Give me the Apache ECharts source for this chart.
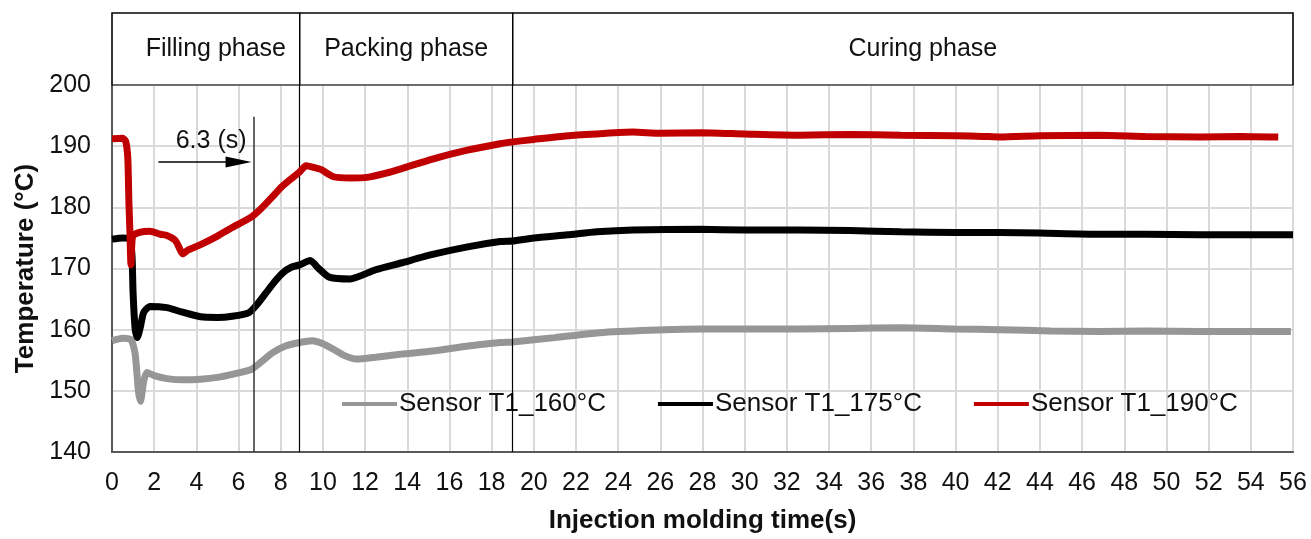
<!DOCTYPE html>
<html>
<head>
<meta charset="utf-8">
<script src="https://cdn.jsdelivr.net/npm/echarts@6/dist/echarts.min.js"></script>
<style>
html,body{margin:0;padding:0;background:#fff;}
#c{width:1311px;height:539px;}
</style>
</head>
<body>
<div id="c"></div>
<script>
// ---- data ----
const seriesNames = ['Sensor T1_160°C', 'Sensor T1_175°C', 'Sensor T1_190°C'];

const t160 = [0, 0.5, 0.9, 1.1, 1.25, 1.35, 1.5, 1.65, 2.0, 2.6, 3.4, 4.2, 5.0, 5.7, 6.6, 7.1, 7.6, 8.2, 8.9, 9.5, 10.0, 10.5, 11.0, 11.6, 12.5, 13.7, 15.2, 16.8, 18.4, 19.0, 21.0, 23.1, 25.5, 27.9, 30.0, 32.6, 35.0, 37.4, 40.0, 42.1, 44.5, 46.8, 49.0, 51.6, 54.0, 55.9];
const v160 = [158.2, 158.6, 158.4, 156.0, 150.0, 148.3, 151.5, 153.0, 152.5, 152.0, 151.8, 151.9, 152.2, 152.7, 153.5, 154.8, 156.2, 157.3, 157.9, 158.2, 157.7, 156.8, 155.8, 155.2, 155.5, 156.0, 156.5, 157.3, 157.9, 158.0, 158.7, 159.5, 159.9, 160.1, 160.1, 160.1, 160.2, 160.3, 160.1, 160.0, 159.8, 159.7, 159.8, 159.7, 159.7, 159.7];

const t175 = [0, 0.5, 0.85, 0.95, 1.0, 1.1, 1.2, 1.35, 1.5, 1.8, 2.6, 3.3, 4.2, 5.0, 5.7, 6.5, 6.9, 7.3, 7.7, 8.1, 8.5, 8.9, 9.4, 9.8, 10.3, 11.3, 12.5, 13.7, 15.2, 16.8, 18.4, 19.0, 20.0, 21.6, 23.0, 24.7, 27.9, 30.0, 32.6, 35.0, 37.4, 40.0, 42.1, 44.0, 46.8, 49.0, 51.6, 54.0, 56.0];
const v175 = [174.8, 175.0, 174.8, 172.0, 166.0, 160.0, 158.7, 160.5, 162.8, 163.8, 163.6, 162.9, 162.1, 162.0, 162.2, 162.8, 164.2, 166.0, 167.8, 169.3, 170.2, 170.6, 171.3, 170.0, 168.6, 168.3, 169.8, 170.9, 172.3, 173.5, 174.4, 174.5, 175.0, 175.5, 176.0, 176.3, 176.4, 176.3, 176.3, 176.2, 176.0, 175.9, 175.9, 175.8, 175.6, 175.6, 175.5, 175.5, 175.5];

const t190 = [0, 0.5, 0.65, 0.75, 0.8, 0.85, 0.9, 0.98, 1.3, 1.8, 2.3, 2.6, 3.0, 3.2, 3.35, 3.6, 4.2, 5.0, 5.7, 6.6, 7.1, 7.6, 8.0, 8.4, 8.9, 9.2, 9.6, 9.9, 10.5, 11.3, 12.1, 13.0, 13.7, 15.2, 16.8, 18.4, 19.0, 20.0, 21.6, 23.0, 24.7, 26.0, 27.9, 30.0, 32.6, 35.0, 37.4, 40.0, 41.3, 42.1, 44.0, 46.8, 49.0, 51.6, 53.5, 55.3];
const v190 = [191.2, 191.3, 190.8, 188.0, 181.0, 176.0, 170.6, 175.3, 175.9, 176.1, 175.6, 175.4, 174.6, 173.3, 172.4, 173.0, 173.9, 175.3, 176.7, 178.4, 179.9, 181.7, 183.2, 184.4, 185.8, 186.8, 186.5, 186.2, 185.0, 184.8, 184.9, 185.6, 186.3, 187.9, 189.3, 190.4, 190.7, 191.1, 191.7, 192.0, 192.3, 192.1, 192.2, 192.0, 191.8, 191.9, 191.8, 191.7, 191.6, 191.5, 191.7, 191.8, 191.6, 191.5, 191.6, 191.5];

const phaseNames = ['Filling phase', 'Packing phase', 'Curing phase'];
const phaseBounds = [0, 8.9, 19.0, 56];
const fillingMark = 6.7;          // end of the 6.3 s filling interval
const arrowFrom = 2.2, arrowTo = 6.0, arrowLevel = 187.4;
const annotationText = '6.3 (s)';

const xTicks = {min: 0, max: 56, interval: 2};
const yTicks = {min: 140, max: 200, interval: 10};

// ---- build ----
const zip = (ts, vs) => ts.map((t, i) => [t, vs[i]]);
const FONT = '"Liberation Sans", Arial, sans-serif';
const colors = ['#969696', '#000000', '#C00000'];

const chart = echarts.init(document.getElementById('c'), null, {renderer: 'canvas'});

const phaseAreas = phaseNames.map((n, i) => [
  {xAxis: phaseBounds[i], yAxis: 0, name: n,
   label: {offset: [i === 0 ? 10 : (i === 2 ? 20 : 0), 0]}},
  {xAxis: phaseBounds[i + 1], yAxis: 1}
]);

const option = {
  animation: false,
  backgroundColor: '#fff',
  textStyle: {fontFamily: FONT},
  grid: [
    {left: 112, right: 18, top: 85, bottom: 87, show: true, borderColor: '#595959', borderWidth: 1.5},
    {left: 112, right: 18, top: 13, height: 72, show: true, borderColor: '#595959', borderWidth: 1.5}
  ],
  xAxis: [
    {type: 'value', gridIndex: 0, min: xTicks.min, max: xTicks.max, interval: xTicks.interval,
     axisLine: {show: true, onZero: false, lineStyle: {color: '#595959', width: 2}},
     axisTick: {show: false},
     axisLabel: {fontSize: 25, color: '#111', margin: 19, fontFamily: FONT},
     splitLine: {show: true, lineStyle: {color: '#d9d9d9', width: 2}},
     name: 'Injection molding time(s)', nameLocation: 'middle', nameGap: 56,
     nameTextStyle: {fontSize: 26, fontWeight: 'bold', color: '#111', fontFamily: FONT}},
    {type: 'value', gridIndex: 1, min: 0, max: 56, show: false}
  ],
  yAxis: [
    {type: 'value', gridIndex: 0, min: yTicks.min, max: yTicks.max, interval: yTicks.interval,
     axisLine: {show: true, lineStyle: {color: '#595959', width: 2}},
     axisTick: {show: false},
     axisLabel: {fontSize: 25, color: '#111', margin: 21, fontFamily: FONT},
     splitLine: {show: true, lineStyle: {color: '#d9d9d9', width: 2}},
     name: 'Temperature (°C)', nameLocation: 'middle', nameGap: 73, nameRotate: 90,
     nameTextStyle: {fontSize: 26, fontWeight: 'bold', color: '#111', fontFamily: FONT}},
    {type: 'value', gridIndex: 1, min: 0, max: 1, show: false}
  ],
  legend: {
    left: 337, top: 386, itemWidth: 55, itemHeight: 4, itemGap: 52,
    icon: 'path://M0,0 L55,0 L55,4 L0,4 Z',
    data: seriesNames,
    textStyle: {fontSize: 26, color: '#111', fontFamily: FONT, padding: [0, 0, 0, -3]}
  },
  series: [
    {name: seriesNames[0], type: 'line', xAxisIndex: 0, yAxisIndex: 0, data: zip(t160, v160),
     showSymbol: false, symbol: 'none', smooth: 0.2, color: colors[0],
     lineStyle: {width: 7, color: colors[0]}, z: 3},
    {name: seriesNames[1], type: 'line', xAxisIndex: 0, yAxisIndex: 0, data: zip(t175, v175),
     showSymbol: false, symbol: 'none', smooth: 0.2, color: colors[1],
     lineStyle: {width: 7, color: colors[1]}, z: 4},
    {name: seriesNames[2], type: 'line', xAxisIndex: 0, yAxisIndex: 0, data: zip(t190, v190),
     showSymbol: false, symbol: 'none', smooth: 0.2, color: colors[2],
     lineStyle: {width: 7, color: colors[2]}, z: 5},
    // annotations in plot
    {type: 'line', xAxisIndex: 0, yAxisIndex: 0, data: [], silent: true, z: 6,
     markLine: {
       silent: true, animation: false,
       label: {show: false},
       data: [
         [{coord: [phaseBounds[1], yTicks.min], symbol: 'none'}, {coord: [phaseBounds[1], yTicks.max], symbol: 'none'}],
         [{coord: [phaseBounds[2], yTicks.min], symbol: 'none'}, {coord: [phaseBounds[2], yTicks.max], symbol: 'none'}],
         [{coord: [fillingMark, yTicks.min], symbol: 'none', lineStyle: {color: '#333', width: 1.5}},
          {coord: [fillingMark, 194.8], symbol: 'none'}],
         [{coord: [arrowFrom, arrowLevel], symbol: 'none', lineStyle: {color: '#000', width: 1.5}},
          {coord: [arrowTo, arrowLevel], symbol: 'triangle', symbolSize: [11, 26]}]
       ],
       lineStyle: {color: '#000', width: 1.2, type: 'solid'}
     },
     markPoint: {
       silent: true, symbol: 'circle', symbolSize: 0,
       label: {show: true, formatter: annotationText, fontSize: 25, color: '#111', fontFamily: FONT, position: 'inside'},
       data: [{coord: [4.7, 190.8]}]
     }},
    // header phases
    {type: 'line', xAxisIndex: 1, yAxisIndex: 1, data: [], silent: true,
     markArea: {
       silent: true,
       itemStyle: {color: 'rgba(0,0,0,0)', borderColor: '#000', borderWidth: 1.2},
       label: {show: true, position: 'inside', fontSize: 25, color: '#111', fontFamily: FONT},
       data: phaseAreas
     }}
  ]
};
chart.setOption(option);
</script>
</body>
</html>
